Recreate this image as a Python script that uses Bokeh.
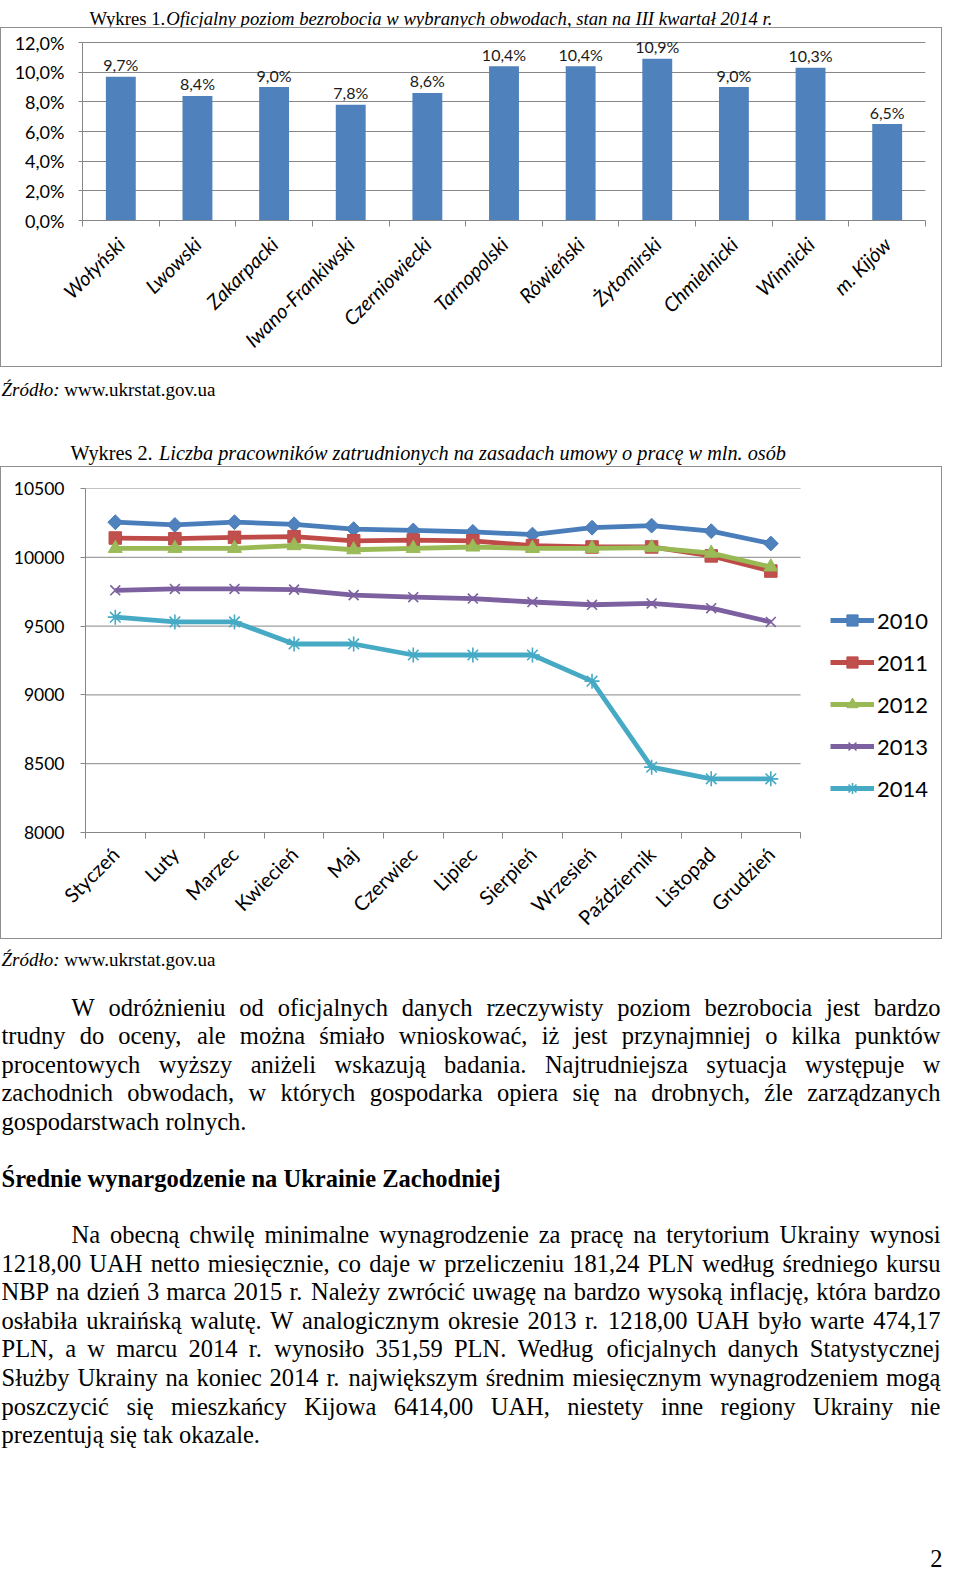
import math
from bokeh.plotting import figure
from bokeh.models import Range1d, FixedTicker, ColumnDataSource, Legend, LegendItem
from bokeh.layouts import column
from bokeh.embed import file_html
from bokeh.resources import INLINE
from bokeh.core.properties import value

# ---------------- data ----------------
regions = ["Wołyński", "Lwowski", "Zakarpacki", "Iwano-Frankiwski", "Czerniowiecki",
           "Tarnopolski", "Rówieński", "Żytomirski", "Chmielnicki", "Winnicki", "m. Kijów"]
unemployment = [9.7, 8.4, 9.0, 7.8, 8.6, 10.4, 10.4, 10.9, 9.0, 10.3, 6.5]
pct_ticks = [0, 2, 4, 6, 8, 10, 12]

months = ["Styczeń", "Luty", "Marzec", "Kwiecień", "Maj", "Czerwiec", "Lipiec",
          "Sierpień", "Wrzesień", "Październik", "Listopad", "Grudzień"]
years = ["2010", "2011", "2012", "2013", "2014"]
emp_2010 = [10255, 10235, 10255, 10240, 10205, 10195, 10185, 10165, 10215, 10230, 10190, 10100]
emp_2011 = [10140, 10135, 10145, 10150, 10120, 10125, 10120, 10085, 10075, 10075, 10010, 9900]
emp_2012 = [10065, 10065, 10065, 10085, 10055, 10065, 10075, 10065, 10065, 10070, 10030, 9930]
emp_2013 = [9760, 9770, 9770, 9765, 9725, 9710, 9700, 9675, 9655, 9665, 9630, 9530]
emp_2014 = [9565, 9530, 9530, 9370, 9370, 9290, 9290, 9290, 9100, 8475, 8390, 8390]
emp_ticks = [8000, 8500, 9000, 9500, 10000, 10500]

title1_reg = "Wykres 1."
title1_ita = "Oficjalny poziom bezrobocia w wybranych obwodach, stan na III kwartał 2014 r."
title2_reg = "Wykres 2. "
title2_ita = "Liczba pracowników zatrudnionych na zasadach umowy o pracę w mln. osób"
source_ita = "Źródło:"
source_reg = "www.ukrstat.gov.ua"

para1 = ["W odróżnieniu od oficjalnych danych rzeczywisty poziom bezrobocia jest bardzo",
         "trudny do oceny, ale można śmiało wnioskować, iż jest przynajmniej o kilka punktów",
         "procentowych wyższy aniżeli wskazują badania. Najtrudniejsza sytuacja występuje w",
         "zachodnich obwodach, w których gospodarka opiera się na drobnych, źle zarządzanych",
         "gospodarstwach rolnych."]
heading = "Średnie wynargodzenie na Ukrainie Zachodniej"
para2 = ["Na obecną chwilę minimalne wynagrodzenie za pracę na terytorium Ukrainy wynosi",
         "1218,00 UAH netto miesięcznie, co daje w przeliczeniu 181,24 PLN według średniego kursu",
         "NBP na dzień 3 marca 2015 r. Należy zwrócić uwagę na bardzo wysoką inflację, która bardzo",
         "osłabiła ukraińską walutę. W analogicznym okresie 2013 r. 1218,00 UAH było warte 474,17",
         "PLN, a w marcu 2014 r. wynosiło 351,59 PLN. Według oficjalnych danych Statystycznej",
         "Służby Ukrainy na koniec 2014 r. największym średnim miesięcznym wynagrodzeniem mogą",
         "poszczycić się mieszkańcy Kijowa 6414,00 UAH, niestety inne regiony Ukrainy nie",
         "prezentują się tak okazale."]
page_number = "2"

# ---------------- styles ----------------
SERIF = "Liberation Serif"
SANS = "Lato"
GRID = "#878787"
FRAME_CSS = {"border": "1px solid #8f8f8f"}
W = 944

# Times New Roman advance widths (1/1000 em) used to justify the paragraphs
REG = dict(zip("abcdefghijklmnopqrstuvwxyz",
               [444, 500, 444, 500, 444, 333, 500, 500, 278, 278, 500, 278, 778, 500, 500, 500, 500,
                333, 389, 278, 500, 500, 722, 500, 500, 444]))
REG.update(zip("ABCDEFGHIJKLMNOPQRSTUVWXYZ",
               [722, 667, 667, 722, 611, 556, 722, 722, 333, 389, 722, 611, 889, 722, 722, 556, 722,
                667, 556, 611, 722, 722, 944, 722, 722, 611]))
REG.update({c: 500 for c in "0123456789"})
REG.update({" ": 250, ",": 250, ".": 250, ":": 278, ";": 278, "-": 333, "%": 833,
            "ą": 444, "ć": 444, "ę": 444, "ł": 278, "ń": 500, "ó": 500, "ś": 389, "ź": 444, "ż": 444,
            "Ś": 556, "Ł": 611, "Ż": 611, "Ź": 611})
ITA = dict(zip("abcdefghijklmnopqrstuvwxyz",
               [500, 500, 444, 500, 444, 278, 500, 500, 278, 278, 444, 278, 722, 500, 500, 500, 500,
                389, 389, 278, 500, 444, 667, 444, 444, 389]))
ITA.update(zip("ABCDEFGHIJKLMNOPQRSTUVWXYZ",
               [611, 611, 667, 722, 611, 611, 722, 722, 333, 444, 667, 556, 833, 667, 722, 611, 722,
                611, 500, 556, 722, 611, 833, 611, 556, 556]))
ITA.update({c: 500 for c in "0123456789"})
ITA.update({" ": 250, ",": 250, ".": 250, ":": 333, "ą": 500, "ć": 444, "ę": 444, "ł": 278,
            "ń": 500, "ó": 500, "ś": 389, "ź": 389, "ż": 389, "Ź": 556, "Ś": 500, "Ż": 556})


def tw(s, size, table=REG):
    return sum(table.get(c, 500) for c in s) * size / 1000.0


def text_fig(h):
    f = figure(width=W, height=h, x_range=Range1d(0, W), y_range=Range1d(h, 0), title=None,
               x_axis_type=None, y_axis_type=None, min_border=0,
               min_border_left=0, min_border_right=0, min_border_top=0, min_border_bottom=0,
               toolbar_location=None, tools="", output_backend="svg", frame_align=False)
    f.grid.visible = False
    f.outline_line_color = None
    return f


def put(f, x, y, t, size, style="normal", align="left"):
    f.text(x=x, y=y, text=t, text_font=value(SERIF), text_font_size=f"{size}px",
           text_font_style=style, text_baseline="alphabetic", text_align=align, text_color="black")


def justify(lines, indent, left, right, size):
    xs, idx, words = [], [], []
    for li, line in enumerate(lines):
        x0 = left + (indent if li == 0 else 0)
        if li == len(lines) - 1:
            xs.append(x0); idx.append(li); words.append(line)
            continue
        ws = line.split(" ")
        wid = [tw(w, size) for w in ws]
        gap = (right - x0 - sum(wid)) / (len(ws) - 1)
        x = x0
        for w, wd in zip(ws, wid):
            xs.append(x); idx.append(li); words.append(w)
            x += wd + gap
    return xs, idx, words


# ---------------- top title ----------------
T1S = 18.7
figA = text_fig(27)
tx = 89
put(figA, [tx], [18], [title1_reg], T1S)
put(figA, [tx + tw(title1_reg, T1S)], [18], [title1_ita], T1S, "italic")

# ---------------- chart 1 ----------------
bx = [i + 0.5 for i in range(len(regions))]
src1 = ColumnDataSource(dict(x=bx, top=unemployment,
                             lab=[f"{v:.1f}".replace(".", ",") + "%" for v in unemployment]))
p1 = figure(width=942, height=340, x_range=Range1d(0, len(regions)), y_range=Range1d(0, 12.81),
            min_border_left=81, min_border_right=18, min_border_top=2, min_border_bottom=148,
            toolbar_location=None, tools="", output_backend="svg", frame_align=False)
p1.styles = FRAME_CSS
p1.outline_line_color = None
p1.vbar(x="x", top="top", width=0.39, source=src1, fill_color="#4F81BD", line_color=None)
p1.text(x="x", y="top", text="lab", source=src1, text_align="center", text_baseline="alphabetic",
        y_offset=-12, text_font=value(SANS), text_font_size="16px", text_color="#1a1a1a")
p1.xgrid.visible = False
p1.ygrid.ticker = FixedTicker(ticks=pct_ticks)
p1.ygrid.grid_line_color = GRID
p1.yaxis.ticker = FixedTicker(ticks=pct_ticks)
p1.yaxis.bounds = (0, 12)
p1.yaxis.major_label_overrides = {t: f"{t:.1f}".replace(".", ",") + "%" for t in pct_ticks}
p1.yaxis.major_tick_out = 4
p1.yaxis.major_tick_in = 0
p1.yaxis.major_label_standoff = 14
p1.xaxis.ticker = FixedTicker(ticks=bx, minor_ticks=list(range(len(regions) + 1)))
p1.xaxis.major_label_overrides = {x: r for x, r in zip(bx, regions)}
p1.xaxis.major_label_orientation = math.pi / 4
p1.xaxis.major_tick_out = 0
p1.xaxis.major_tick_in = 0
p1.xaxis.minor_tick_out = 6
p1.xaxis.minor_tick_in = 0
p1.xaxis.major_label_standoff = 14
p1.xaxis.major_label_text_font_style = "italic"
p1.xaxis.major_label_text_font_size = "20px"
for ax in (p1.xaxis, p1.yaxis):
    ax.axis_line_color = GRID
    ax.major_tick_line_color = GRID
    ax.minor_tick_line_color = GRID
    ax.major_label_text_font = SANS
    ax.major_label_text_color = "black"
p1.yaxis.minor_tick_line_color = None
p1.yaxis.major_label_text_font_size = "18px"

# ---------------- middle text ----------------
SS = 19
T2S = 20.3
figC = text_fig(99)
put(figC, [1], [22], [source_ita], SS, "italic")
put(figC, [1 + tw(source_ita, SS, ITA) + tw(" ", SS)], [22], [source_reg], SS)
t2x = 70
put(figC, [t2x], [85], [title2_reg], T2S)
put(figC, [t2x + tw(title2_reg, T2S)], [85], [title2_ita], T2S, "italic")

# ---------------- chart 2 ----------------
n_m = len(months)
mx = [i + 0.5 for i in range(n_m)]
# frame is widened to the right so that the legend sits inside it
p2 = figure(width=942, height=473, x_range=Range1d(0, n_m + 2.23), y_range=Range1d(8000, 10500),
            min_border_left=84, min_border_right=10, min_border_top=21, min_border_bottom=107,
            toolbar_location=None, tools="", output_backend="svg", frame_align=False)
p2.styles = FRAME_CSS
p2.outline_line_color = None
p2.xgrid.visible = False
p2.ygrid.visible = False
p2.segment(x0=[0] * len(emp_ticks), x1=[n_m] * len(emp_ticks), y0=emp_ticks, y1=emp_ticks,
           line_color=GRID, line_width=1)
styles2 = [
    dict(line="#4A7EBB", fill="#4F81BD", marker="square", size=10.5, angle=math.pi / 4, lw=1),
    dict(line="#BE4B48", fill="#C0504D", marker="square", size=12.5, angle=0, lw=1),
    dict(line="#98B954", fill="#9BBB59", marker="triangle", size=14, angle=0, lw=1),
    dict(line="#7D60A0", fill="#7D60A0", marker="x", size=14, angle=0, lw=1.6),
    dict(line="#46AAC5", fill="#46AAC5", marker="asterisk", size=15, angle=0, lw=1.6),
]
series = [emp_2010, emp_2011, emp_2012, emp_2013, emp_2014]
items = []
for yr, vals, st in zip(years, series, styles2):
    s = ColumnDataSource(dict(x=mx, y=vals))
    lr = p2.line("x", "y", source=s, line_color=st["line"], line_width=4.8, line_join="round")
    mr = p2.scatter("x", "y", source=s, marker=st["marker"], size=st["size"], angle=st["angle"],
                    fill_color=st["fill"], line_color=st["line"], line_width=st["lw"])
    items.append(LegendItem(label=yr, renderers=[lr, mr]))
legend = Legend(items=items, location=(745, 30), orientation="vertical", glyph_width=44,
                glyph_height=28, label_height=28, spacing=14, padding=0, margin=0,
                label_standoff=3, label_text_font=SANS, label_text_font_size="22px",
                label_text_color="black", border_line_color=None, background_fill_alpha=0)
p2.add_layout(legend)
p2.yaxis.ticker = FixedTicker(ticks=emp_ticks)
p2.yaxis.major_label_overrides = {t: str(t) for t in emp_ticks}
p2.yaxis.major_tick_out = 5
p2.yaxis.major_tick_in = 0
p2.yaxis.major_label_standoff = 16
p2.yaxis.major_label_text_font_size = "17.5px"
p2.xaxis.ticker = FixedTicker(ticks=mx, minor_ticks=list(range(n_m + 1)))
p2.xaxis.bounds = (0, n_m)
p2.xaxis.major_label_overrides = {x: m for x, m in zip(mx, months)}
p2.xaxis.major_label_orientation = math.pi / 4
p2.xaxis.major_tick_out = 0
p2.xaxis.major_tick_in = 0
p2.xaxis.minor_tick_out = 6
p2.xaxis.minor_tick_in = 0
p2.xaxis.major_label_standoff = 12
p2.xaxis.major_label_text_font_size = "20px"
for ax in (p2.xaxis, p2.yaxis):
    ax.axis_line_color = GRID
    ax.major_tick_line_color = GRID
    ax.minor_tick_line_color = GRID
    ax.major_label_text_font = SANS
    ax.major_label_text_color = "black"
p2.yaxis.minor_tick_line_color = None

# ---------------- bottom text ----------------
BS = 24.5
figE = text_fig(628)
put(figE, [1], [20], [source_ita], SS, "italic")
put(figE, [1 + tw(source_ita, SS, ITA) + tw(" ", SS)], [20], [source_reg], SS)
xs, idx, words = justify(para1, 70, 1, 940, BS)
put(figE, xs, [68 + i * 28.4 for i in idx], words, BS)
put(figE, [1], [239], [heading], BS, "bold")
xs, idx, words = justify(para2, 70, 1, 940, BS)
put(figE, xs, [295 + i * 28.6 for i in idx], words, BS)
put(figE, [942], [619], [page_number], BS, align="right")

layout = column(figA, p1, figC, p2, figE, spacing=0)
open("out.html", "w").write(file_html(layout, INLINE))
